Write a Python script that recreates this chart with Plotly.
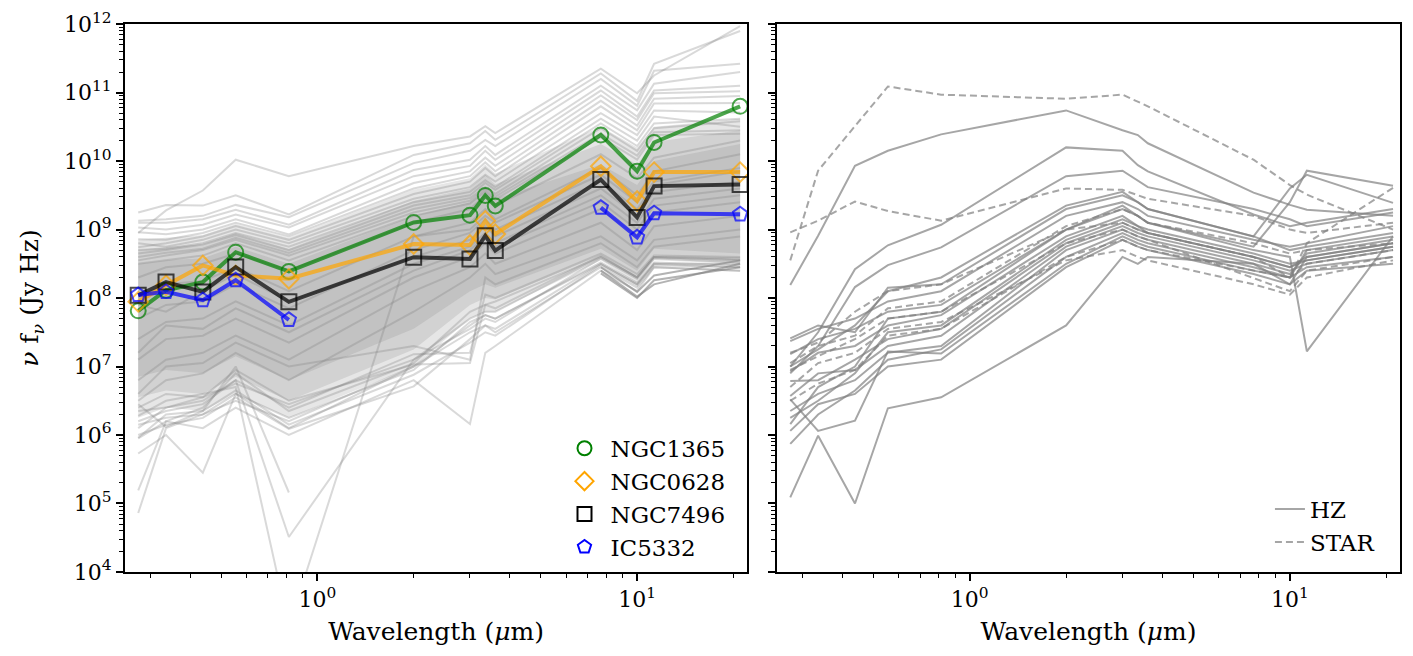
import plotly.graph_objects as go

# ---------------- data ----------------
wavelength_um = [0.275, 0.336, 0.438, 0.555, 0.814, 2.0, 3.0, 3.35, 3.6, 7.7, 10.0, 11.3, 21.0]

# highlighted galaxies (nu f_nu, Jy Hz)
ngc1365 = [6.5e7, 1.30e8, 1.71e8, 4.67e8, 2.45e8, 1.27e9, 1.62e9, 3.15e9, 2.21e9, 2.41e10, 7.1e9, 1.87e10, 6.3e10]
ngc0628 = [8.8e7, 1.54e8, 2.99e8, 2.14e8, 1.91e8, 6.15e8, 5.95e8, 1.34e9, 8.6e8, 8.4e9, 2.61e9, 6.9e9, 6.9e9]
ngc7496 = [1.10e8, 1.71e8, 1.23e8, 2.83e8, 8.8e7, 3.95e8, 3.73e8, 8.1e8, 4.93e8, 5.37e9, 1.50e9, 4.31e9, 4.55e9]
ic5332 = [1.11e8, 1.23e8, 9.3e7, 1.82e8, 4.8e7, None, None, None, None, 2.09e9, 7.7e8, 1.73e9, 1.67e9]

# crowded band of regions (log10 nu f_nu): nested envelopes, outer -> inner
band_tops = [
    [8.85, 8.88, 8.92, 9.08, 8.88, 9.58, 9.75, 9.95, 9.82, 10.50, 10.20, 10.50, 10.62],
    [8.70, 8.75, 8.78, 8.95, 8.72, 9.42, 9.60, 9.80, 9.66, 10.25, 9.95, 10.28, 10.45],
    [8.50, 8.55, 8.58, 8.75, 8.50, 9.20, 9.40, 9.60, 9.45, 9.95, 9.65, 10.00, 10.25],
]
band_bots = [
    [6.25, 6.40, 6.35, 6.60, 6.25, 7.00, 7.70, 7.80, 7.80, 8.55, 8.22, 8.55, 8.50],
    [6.55, 6.65, 6.60, 6.85, 6.50, 7.25, 7.90, 8.00, 7.98, 8.62, 8.30, 8.62, 8.55],
    [6.85, 6.95, 6.90, 7.15, 6.80, 7.55, 8.10, 8.20, 8.15, 8.72, 8.40, 8.72, 8.65],
]

# individual regions (log10 nu f_nu)
bg_upper = [
    [8.95, 9.28, 9.57, 10.02, 9.78, 10.22, 10.36, 10.51, 10.41, 11.35, 10.99, 11.25, 11.97],
    [9.25, 9.36, 9.35, 9.50, 9.22, 10.09, 10.26, 10.44, 10.31, 11.28, 10.88, 11.42, 11.90],
    [9.13, 9.15, 9.20, 9.36, 9.18, 9.97, 10.15, 10.31, 10.22, 11.20, 10.81, 11.32, 11.42],
    [9.10, 9.10, 9.15, 9.29, 9.07, 9.87, 10.02, 10.22, 10.09, 11.10, 10.74, 11.13, 11.30],
    [9.03, 9.00, 9.07, 9.22, 9.03, 9.78, 9.93, 10.15, 10.02, 11.03, 10.65, 11.03, 11.10],
    [8.96, 8.93, 9.00, 9.15, 8.93, 9.68, 9.85, 10.05, 9.93, 10.96, 10.60, 10.99, 11.02],
    [8.86, 8.85, 8.95, 9.10, 8.90, 9.60, 9.78, 9.98, 9.85, 10.88, 10.52, 10.91, 10.95],
    [8.74, 8.80, 8.90, 9.05, 8.85, 9.52, 9.70, 9.90, 9.78, 10.80, 10.45, 10.84, 10.85],
    [8.80, 8.75, 8.85, 9.00, 8.80, 9.45, 9.62, 9.80, 9.70, 10.70, 10.38, 10.74, 10.71],
    [8.70, 8.72, 8.80, 8.95, 8.75, 9.40, 9.55, 9.72, 9.62, 10.62, 10.30, 10.65, 10.50],
    [8.65, 8.70, 8.78, 8.92, 8.70, 9.35, 9.50, 9.68, 9.58, 10.55, 10.22, 10.55, 10.62],
    [8.60, 8.66, 8.72, 8.88, 8.66, 9.30, 9.46, 9.62, 9.52, 10.48, 10.15, 10.48, 10.58],
    [8.55, 8.62, 8.70, 8.85, 8.62, 9.25, 9.42, 9.60, 9.48, 10.40, 10.08, 10.42, 10.45],
    [8.50, 8.55, 8.62, 8.80, 8.55, 9.20, 9.38, 9.56, 9.44, 10.35, 10.02, 10.38, 10.40],
]
bg_core = [
    [8.30, 8.45, 8.50, 8.65, 8.40, 9.10, 9.30, 9.50, 9.35, 10.10, 9.75, 10.05, 10.30],
    [8.00, 8.20, 8.25, 8.45, 8.10, 8.90, 9.10, 9.30, 9.15, 9.90, 9.50, 9.85, 10.10],
    [7.70, 7.90, 7.95, 8.20, 7.85, 8.70, 8.95, 9.15, 9.00, 9.70, 9.30, 9.65, 9.85],
    [7.40, 7.65, 7.70, 7.95, 7.60, 8.50, 8.75, 8.95, 8.80, 9.50, 9.10, 9.45, 9.60],
    [7.10, 7.40, 7.45, 7.70, 7.35, 8.30, 8.60, 8.80, 8.65, 9.30, 8.90, 9.25, 9.40],
    [6.80, 7.10, 7.20, 7.45, 7.10, 8.10, 8.45, 8.65, 8.50, 9.10, 8.70, 9.05, 9.20],
    [6.50, 6.80, 6.90, 7.20, 6.80, 7.80, 8.30, 8.50, 8.35, 8.90, 8.55, 8.85, 9.00],
    [7.90, 7.80, 8.10, 8.35, 7.95, 8.60, 8.85, 9.05, 8.90, 9.60, 9.20, 9.55, 9.70],
    [7.20, 7.60, 7.55, 7.85, 7.50, 8.40, 8.70, 8.90, 8.75, 9.40, 9.00, 9.35, 9.50],
    [6.60, 7.00, 7.05, 7.35, 7.00, 7.30, 7.10, 8.30, 8.20, 8.80, 8.45, 8.75, 8.90],
    [6.40, 6.60, 6.55, 6.95, 6.50, 7.03, 7.05, 7.90, 7.95, 8.60, 8.30, 8.60, 8.55],
    [6.20, 6.35, 6.45, 6.80, 6.40, 7.18, 7.20, 8.05, 8.00, 8.65, 8.35, 8.62, 8.60],
]
bg_lower = [
    [4.86, 6.10, 6.30, 6.50, 6.20, 7.00, 7.60, 7.75, 7.70, 8.50, 8.20, 8.50, 8.45],
    [5.19, 6.20, 6.10, 6.40, 6.00, 6.80, 6.16, 7.20, 7.30, 8.40, 8.10, 8.45, 8.40],
    [5.73, 6.00, 5.45, 6.60, 6.10, 7.00, 7.50, 7.60, 7.55, 8.50, 8.20, 8.50, 8.50],
    [5.96, 6.30, 6.35, 7.00, 5.16, None, None, None, None, None, None, None, None],
    [6.10, 6.40, 6.50, 6.80, 4.51, 7.10, 7.70, 7.80, 7.80, 8.60, 8.30, 8.60, 8.55],
    [6.28, 6.50, 6.60, 6.70, 3.20, 8.90, 9.00, 9.20, 9.10, 9.80, 9.40, 9.70, 9.90],
    [6.00, 6.15, 6.25, 6.55, 6.09, 6.71, 7.40, 7.60, 7.50, 8.45, 8.15, 8.45, 8.40],
    [6.35, 6.40, 6.55, 6.75, 6.45, 7.10, 7.55, 7.70, 7.65, 8.58, 8.28, 8.58, 8.52],
    [6.15, 6.25, 6.30, 6.60, 6.25, 6.95, 7.65, 7.75, 7.70, 8.52, 8.22, 8.52, 8.48],
    [5.95, 6.20, 6.40, 6.90, 6.35, 7.05, 7.80, 7.90, 7.85, 8.62, 8.30, 8.60, 8.58],
    [6.45, 6.12, 6.35, 6.65, 6.15, 6.88, 7.35, 7.50, 7.45, 8.48, 8.18, 8.48, 8.45],
]
bg_mir_only = [
    [None, None, None, None, None, None, None, None, None, 8.40, 8.02, 8.20, 8.50],
    [None, None, None, None, None, None, None, None, None, 8.45, 8.09, 8.33, 8.55],
    [None, None, None, None, None, None, None, None, None, 8.36, 8.00, 8.26, 8.45],
]

# right panel: HZ (solid) and STAR (dashed) regions, log10 nu f_nu
hz_lines = [
    [8.19, 8.91, 9.93, 10.15, 10.39, 10.74, 10.45, 10.38, 10.26, 9.54, 9.36, 9.29, 9.20],
    [7.00, 7.50, 8.42, 8.77, 9.07, 10.20, 10.15, 9.94, 9.85, 9.22, 9.05, 9.10, 9.30],
    [6.90, 7.30, 8.16, 8.48, 8.74, 9.78, 9.86, 9.71, 9.62, 9.30, 9.15, 9.05, 9.25],
    [5.09, 5.99, 5.00, 6.39, 6.55, 7.60, 8.60, 8.50, 8.60, 8.50, 8.20, 8.40, 8.50],
    [6.52, 6.06, 6.21, 7.22, 7.19, 8.50, 8.90, 8.80, 8.75, 8.40, 8.30, 8.45, 8.60],
    [7.41, 7.60, 7.50, 8.15, 8.20, 9.30, 9.50, 9.40, 9.30, 8.90, 9.60, 9.80, 9.39],
    [7.18, 7.40, 7.55, 7.80, 7.90, 9.00, 9.35, 9.20, 9.10, 8.70, 8.60, 7.22, 8.90],
    [6.93, 7.20, 7.30, 7.60, 7.75, 8.90, 9.20, 9.05, 9.00, 8.65, 8.50, 8.55, 8.75],
    [6.79, 6.80, 7.10, 7.40, 7.55, 8.80, 9.10, 9.00, 8.95, 8.60, 8.45, 8.60, 8.80],
    [6.57, 6.90, 6.95, 7.30, 7.45, 8.75, 9.05, 8.95, 8.90, 8.55, 8.40, 8.50, 8.70],
    [6.35, 6.60, 6.80, 7.20, 7.30, 8.70, 9.00, 8.90, 8.85, 8.50, 8.35, 8.65, 8.85],
    [6.25, 6.50, 6.90, 7.50, 7.60, 8.85, 9.15, 9.05, 8.95, 8.60, 8.45, 8.55, 8.75],
    [6.16, 6.70, 7.00, 7.70, 7.80, 9.00, 9.30, 9.20, 9.10, 8.75, 9.40, 9.86, 9.64],
    [6.06, 6.45, 6.60, 7.00, 7.10, 8.45, 8.85, 8.75, 8.70, 8.35, 8.20, 8.60, 8.80],
    [5.87, 6.30, 6.65, 7.10, 7.25, 8.60, 8.95, 8.85, 8.80, 8.45, 8.30, 8.70, 8.90],
    [7.37, 7.55, 7.70, 7.95, 8.10, 9.20, 9.40, 9.30, 9.20, 8.85, 8.75, 8.80, 9.05],
    [7.00, 7.25, 7.60, 8.10, 8.30, 9.35, 9.55, 9.40, 9.30, 8.90, 8.70, 8.75, 8.95],
]
star_lines = [
    [8.55, 9.86, 10.51, 11.09, 10.97, 10.91, 10.97, 10.87, 10.80, 10.02, 9.65, 9.51, 9.00],
    [8.96, 9.13, 9.41, 9.27, 9.13, 9.60, 9.58, 9.50, 9.45, 9.20, 9.00, 8.95, 9.10],
    [7.20, 7.35, 7.80, 8.10, 8.20, 9.00, 9.10, 9.00, 8.95, 8.60, 8.30, 8.50, 8.70],
    [6.95, 7.15, 7.40, 7.70, 7.80, 8.80, 9.00, 8.90, 8.85, 8.30, 8.10, 8.40, 8.60],
    [6.50, 6.75, 6.95, 7.45, 7.55, 8.60, 8.85, 8.75, 8.70, 8.40, 8.30, 8.80, 9.61],
    [6.70, 7.05, 7.20, 7.55, 7.65, 8.55, 8.70, 8.60, 8.55, 8.20, 8.05, 8.30, 8.55],
    [7.05, 7.30, 7.45, 7.85, 7.95, 9.05, 9.30, 9.20, 9.10, 8.80, 8.65, 8.70, 8.80],
]

x_ticks = [1, 10]
x_ticktext = ["10<sup>0</sup>", "10<sup>1</sup>"]
y_ticks = [1e4, 1e5, 1e6, 1e7, 1e8, 1e9, 1e10, 1e11, 1e12]
y_ticktext = ["10<sup>%d</sup>" % p for p in range(4, 13)]


def lin(vals):
    return [None if v is None else 10 ** v for v in vals]


FONT = "DejaVu Serif"
fig = go.Figure()

# ---------- left panel ----------
for top, bot in zip(band_tops, band_bots):
    fig.add_trace(go.Scatter(x=wavelength_um, y=lin(bot), mode="lines", line=dict(width=0),
                             showlegend=False, hoverinfo="skip", xaxis="x", yaxis="y"))
    fig.add_trace(go.Scatter(x=wavelength_um, y=lin(top), mode="lines", line=dict(width=0),
                             fill="tonexty", fillcolor="rgba(128,128,128,0.2)",
                             showlegend=False, hoverinfo="skip", xaxis="x", yaxis="y"))

for group in (bg_upper, bg_core, bg_lower):
    for vals in group:
        fig.add_trace(go.Scatter(x=wavelength_um, y=lin(vals), mode="lines",
                                 line=dict(color="rgba(128,128,128,0.3)", width=2),
                                 showlegend=False, hoverinfo="skip", xaxis="x", yaxis="y"))
for vals in bg_mir_only:
    fig.add_trace(go.Scatter(x=wavelength_um, y=lin(vals), mode="lines",
                             line=dict(color="rgba(128,128,128,0.6)", width=2),
                             showlegend=False, hoverinfo="skip", xaxis="x", yaxis="y"))

highlight = [
    ("NGC1365", ngc1365, "0,128,0", "circle-open"),
    ("NGC0628", ngc0628, "255,165,0", "diamond-open"),
    ("NGC7496", ngc7496, "0,0,0", "square-open"),
    ("IC5332", ic5332, "0,0,255", "pentagon-open"),
]
for name, vals, rgb, sym in highlight:
    fig.add_trace(go.Scatter(x=wavelength_um, y=vals, mode="lines+markers", name=name,
                             line=dict(color="rgba(%s,0.7)" % rgb, width=4),
                             marker=dict(symbol=sym, size=15, color="rgba(%s,0.7)" % rgb,
                                         line=dict(width=2, color="rgba(%s,0.7)" % rgb)),
                             connectgaps=False, showlegend=False, xaxis="x", yaxis="y"))
for name, vals, rgb, sym in highlight:
    fig.add_trace(go.Scatter(x=[None], y=[None], mode="markers", name=name,
                             marker=dict(symbol=sym, size=14, color="rgb(%s)" % rgb,
                                         line=dict(width=2, color="rgb(%s)" % rgb)),
                             showlegend=True, legend="legend", xaxis="x", yaxis="y"))

# ---------- right panel ----------
GREY = "rgba(128,128,128,0.7)"
for vals in hz_lines:
    fig.add_trace(go.Scatter(x=wavelength_um, y=lin(vals), mode="lines",
                             line=dict(color=GREY, width=2),
                             showlegend=False, hoverinfo="skip", xaxis="x2", yaxis="y2"))
for vals in star_lines:
    fig.add_trace(go.Scatter(x=wavelength_um, y=lin(vals), mode="lines",
                             line=dict(color=GREY, width=2, dash="7px,4px"),
                             showlegend=False, hoverinfo="skip", xaxis="x2", yaxis="y2"))
fig.add_trace(go.Scatter(x=[None], y=[None], mode="lines", name="HZ",
                         line=dict(color=GREY, width=2),
                         legend="legend2", xaxis="x2", yaxis="y2"))
fig.add_trace(go.Scatter(x=[None], y=[None], mode="lines", name="STAR",
                         line=dict(color=GREY, width=2, dash="7px,4px"),
                         legend="legend2", xaxis="x2", yaxis="y2"))

minor_x = [0.3, 0.4, 0.5, 0.6, 0.7, 0.8, 0.9, 2, 3, 4, 5, 6, 7, 8, 9, 20]
minor_y = [m * 10 ** p for p in range(4, 12) for m in range(2, 10)]

TICKFONT = dict(family=FONT, size=22, color="black")
TITLEFONT = dict(family=FONT, size=25, color="black")
axis_common = dict(type="log", showline=True, linecolor="black", linewidth=2, mirror=True,
                   ticks="outside", ticklen=7, tickwidth=1.5, tickcolor="black",
                   showgrid=False, zeroline=False, tickfont=TICKFONT,
                   ticklabeloverflow="allow")
minor_x_d = dict(tickvals=minor_x, ticks="outside", ticklen=4, tickwidth=1, tickcolor="black")
minor_y_d = dict(tickvals=minor_y, ticks="outside", ticklen=4, tickwidth=1, tickcolor="black")
xr = [-0.602, 1.344]
yr = [3.999, 12.002]
fig.update_layout(
    xaxis=dict(axis_common, domain=[0, 0.4879], range=xr, tickvals=x_ticks, ticktext=x_ticktext,
               minor=minor_x_d,
               title=dict(text="Wavelength (<i>μ</i>m)", font=TITLEFONT, standoff=13)),
    xaxis2=dict(axis_common, domain=[0.5114, 1], range=xr, tickvals=x_ticks, ticktext=x_ticktext,
                minor=minor_x_d,
                title=dict(text="Wavelength (<i>μ</i>m)", font=TITLEFONT, standoff=13)),
    yaxis=dict(axis_common, range=yr, tickvals=y_ticks, ticktext=y_ticktext, anchor="x",
               minor=minor_y_d,
               title=dict(text="<i>ν</i> f<sub><i>ν</i></sub> (Jy Hz)", font=TITLEFONT, standoff=18)),
    yaxis2=dict(axis_common, range=yr, tickvals=y_ticks, showticklabels=False, anchor="x2",
                minor=minor_y_d),
    legend=dict(x=0.34, y=0.265, xanchor="left", yanchor="top", bgcolor="rgba(0,0,0,0)",
                font=dict(family=FONT, size=23, color="black"), traceorder="normal",
                itemwidth=42),
    legend2=dict(x=0.898, y=0.154, xanchor="left", yanchor="top", bgcolor="rgba(0,0,0,0)",
                 font=dict(family=FONT, size=23, color="black"), traceorder="normal"),
    width=1395, height=638,
    margin=dict(l=117, r=1, t=12, b=74),
    paper_bgcolor="white", plot_bgcolor="white",
)

fig.write_html("out.html")
